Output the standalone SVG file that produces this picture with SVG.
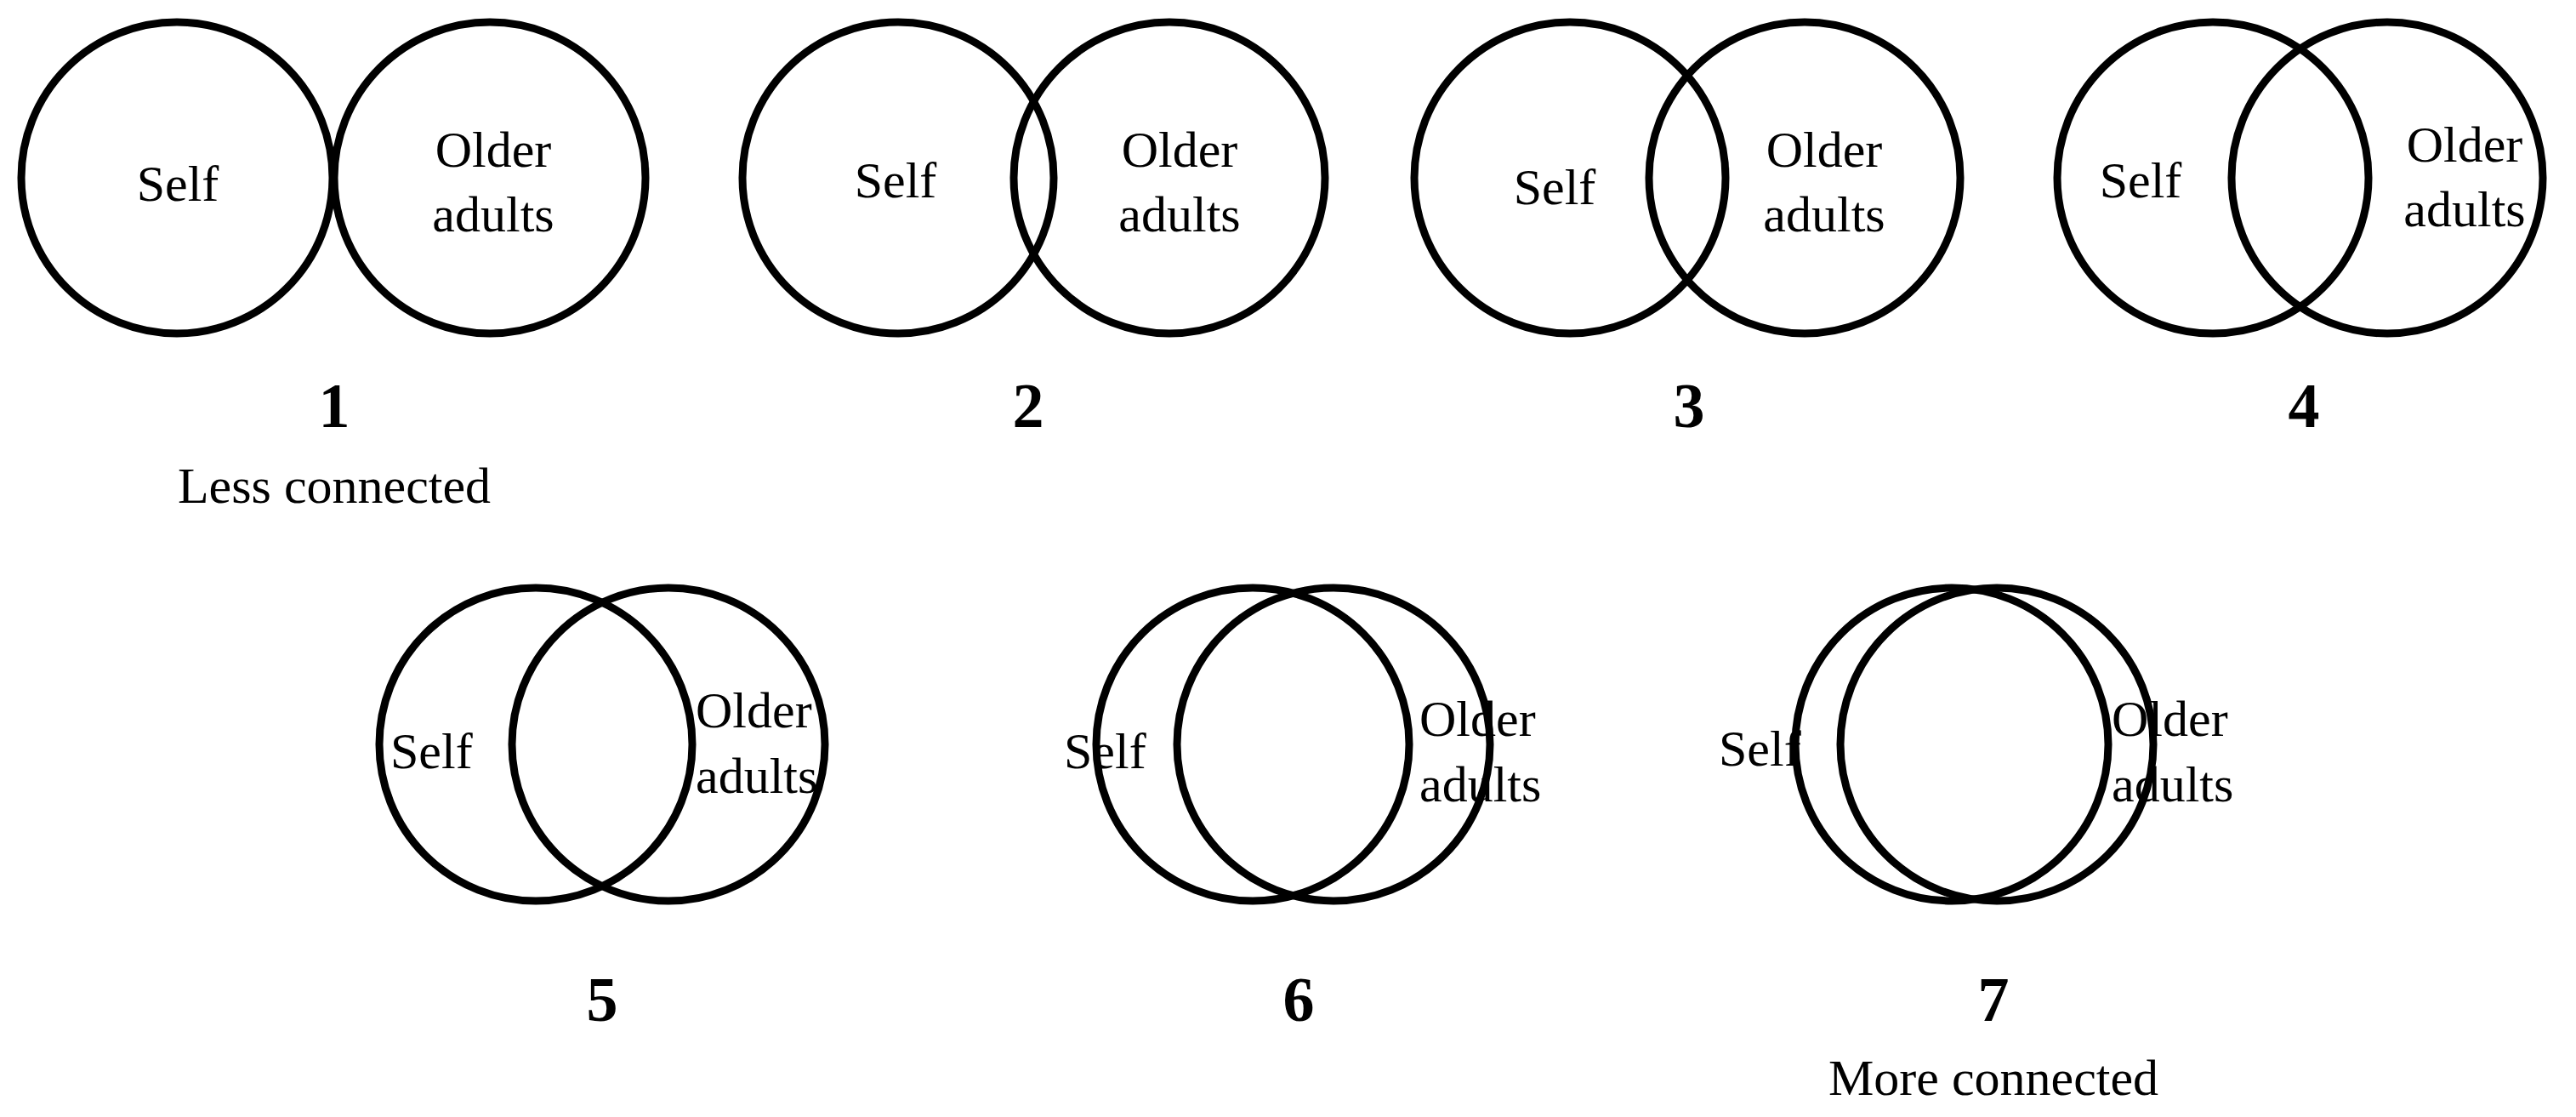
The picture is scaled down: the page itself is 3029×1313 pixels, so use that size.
<svg xmlns="http://www.w3.org/2000/svg" width="3029" height="1313" viewBox="0 0 3029 1313">
<style>
.c{fill:none;stroke:#000;stroke-width:9}
text{font-family:"Liberation Serif","Times New Roman",serif;fill:#000;font-size:60px}
.m{text-anchor:middle}
.n{font-weight:bold;font-size:74px;text-anchor:middle}
</style>
<rect width="3029" height="1313" fill="#fff"/>
<g id="pair1"><circle class="c" cx="208" cy="209" r="183"/><circle class="c" cx="576" cy="209" r="183"/>
<text class="m" x="209" y="236">Self</text><text class="m" x="580" y="196">Older</text><text class="m" x="580" y="272">adults</text>
<text class="n" x="393" y="502">1</text><text class="m" x="393" y="591">Less connected</text></g>
<g id="pair2"><circle class="c" cx="1056" cy="209" r="183"/><circle class="c" cx="1375" cy="209" r="183"/>
<text class="m" x="1053" y="232">Self</text><text class="m" x="1387" y="196">Older</text><text class="m" x="1387" y="272">adults</text>
<text class="n" x="1209" y="502">2</text></g>
<g id="pair3"><circle class="c" cx="1846" cy="209" r="183"/><circle class="c" cx="2122" cy="209" r="183"/>
<text class="m" x="1828" y="240">Self</text><text class="m" x="2145" y="196">Older</text><text class="m" x="2145" y="272">adults</text>
<text class="n" x="1986" y="502">3</text></g>
<g id="pair4"><circle class="c" cx="2602" cy="209" r="183"/><circle class="c" cx="2807" cy="209" r="183"/>
<text class="m" x="2517" y="232">Self</text><text class="m" x="2898" y="190">Older</text><text class="m" x="2898" y="266">adults</text>
<text class="n" x="2709" y="502">4</text></g>
<g id="pair5"><circle class="c" cx="630" cy="875" r="184"/><circle class="c" cx="786" cy="875" r="184"/>
<text x="459" y="903">Self</text><text x="818" y="855">Older</text><text x="818" y="932">adults</text>
<text class="n" x="708" y="1200">5</text></g>
<g id="pair6"><circle class="c" cx="1473" cy="875" r="184"/><circle class="c" cx="1568" cy="875" r="184"/>
<text x="1251" y="903">Self</text><text x="1669" y="865">Older</text><text x="1669" y="942">adults</text>
<text class="n" x="1527" y="1200">6</text></g>
<g id="pair7"><circle class="c" cx="2295" cy="875" r="184"/><circle class="c" cx="2348" cy="875" r="184"/>
<text x="2021" y="900">Self</text><text x="2483" y="865">Older</text><text x="2483" y="942">adults</text>
<text class="n" x="2344" y="1200">7</text><text class="m" x="2344" y="1287">More connected</text></g>
<g id="connectors"/>
</svg>
